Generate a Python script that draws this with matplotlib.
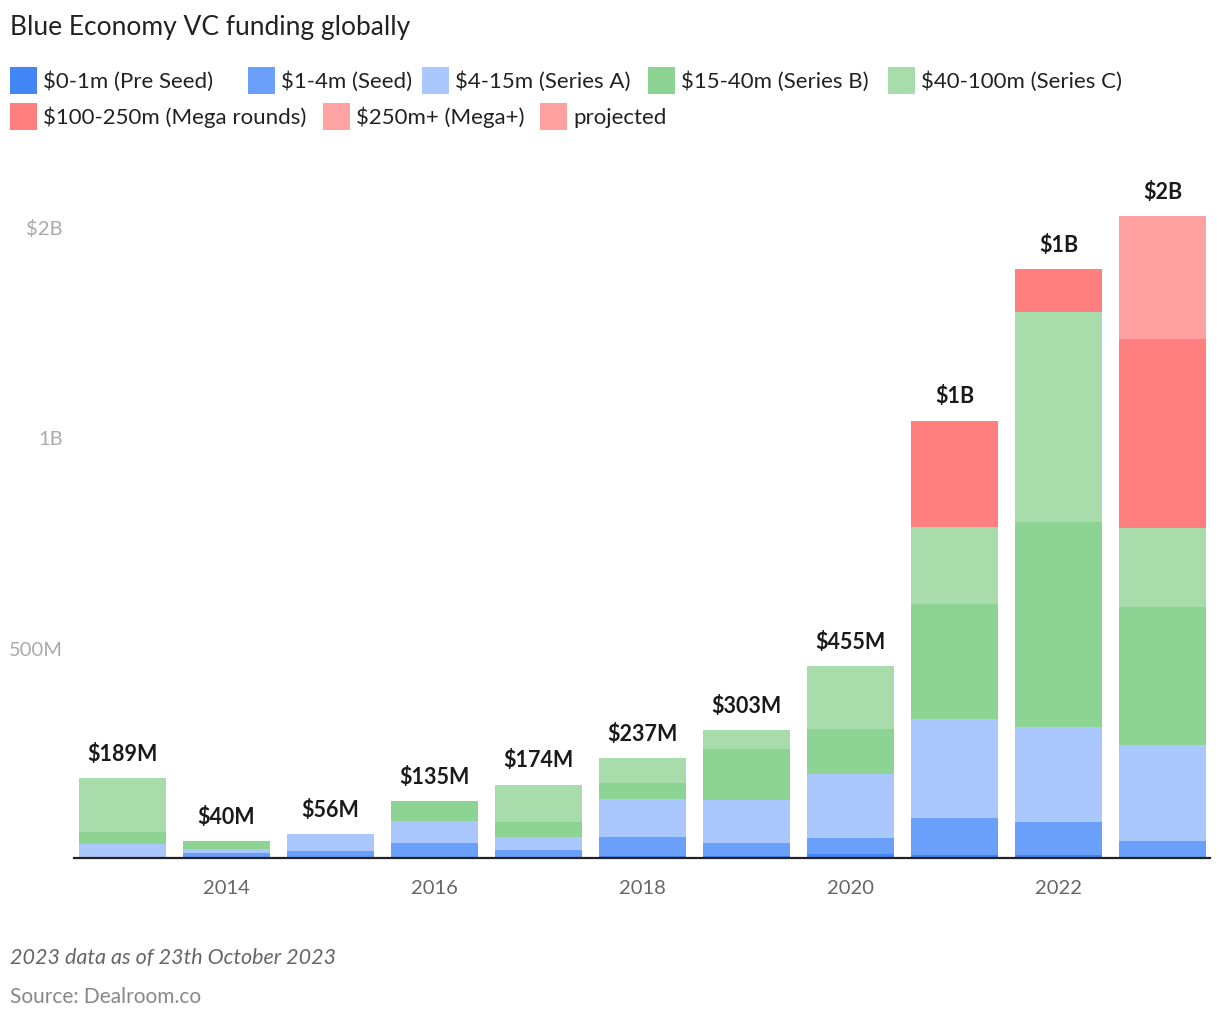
import matplotlib
matplotlib.use("Agg")
import matplotlib.pyplot as plt
from matplotlib.patches import Rectangle
import numpy as np

# data (millions of USD)
years = [2013, 2014, 2015, 2016, 2017, 2018, 2019, 2020, 2021, 2022, 2023]
pre_seed = [0.5, 1, 1, 1.5, 3, 5.5, 5.5, 9.5, 8, 8, 3]
seed = [3, 11.5, 16, 35, 16.5, 45, 31, 38, 88, 78, 38]
series_a = [30, 10, 39, 51, 31.5, 90.5, 102, 152, 235, 226, 228]
series_b = [28.5, 17.5, 0, 47.5, 34, 36, 121, 107.5, 273, 485, 328]
series_c = [127, 0, 0, 0, 89, 60, 43.5, 148, 183, 499, 188]
mega = [0, 0, 0, 0, 0, 0, 0, 0, 252, 102, 447]
mega_plus = [0, 0, 0, 0, 0, 0, 0, 0, 0, 0, 0]
projected = [0, 0, 0, 0, 0, 0, 0, 0, 0, 0, 292]

labels = ["$0-1m (Pre Seed)", "$1-4m (Seed)", "$4-15m (Series A)",
          "$15-40m (Series B)", "$40-100m (Series C)",
          "$100-250m (Mega rounds)", "$250m+ (Mega+)", "projected"]
colors = ["#4285f4", "#6a9ffb", "#aac8fd", "#8dd393", "#a8dcaa",
          "#ff7f7f", "#ffa3a3", "#ffa1a1"]

yticks = [500, 1000, 1500]
ytick_labels = ["500M", "1B", "$2B"]
xticks = [2014, 2016, 2018, 2020, 2022]

W, H = 1220, 1020
FONT = "Lato"


def fx(px):
    return px / W


def fy(py):
    # pixel from top -> figure fraction from bottom
    return 1 - py / H


def fmt_total(v):
    if v >= 1000:
        return "$%.0fB" % (v / 1000)
    return "$%.0fM" % v


def plotGraph():
    fig = plt.figure(figsize=(W / 100, H / 100), dpi=100)
    ax = fig.add_axes([fx(74), fy(859), fx(1210 - 74), 1700 * 0.421 / H])

    series = [pre_seed, seed, series_a, series_b, series_c, mega, mega_plus, projected]
    bottom = np.zeros(len(years))
    for vals, col in zip(series, colors):
        vals = np.array(vals, dtype=float)
        ax.bar(years, vals, bottom=bottom, width=0.837, color=col, linewidth=0)
        bottom += vals

    # total labels above the bars
    for yr, tot in zip(years, bottom):
        ax.annotate(fmt_total(tot), (yr, tot), xytext=(0, 25),
                    textcoords="offset pixels", ha="center", va="center",
                    fontsize=15.5, fontweight="bold", color="#1a1a1a", family=FONT)

    ax.set_xlim(2012.534, 2023.457)
    ax.set_ylim(0, 1700)
    ax.set_xticks(xticks)
    ax.set_xticklabels([str(x) for x in xticks], fontsize=14.5, color="#666666", family=FONT)
    ax.set_yticks(yticks)
    ax.set_yticklabels(ytick_labels, fontsize=14.5, color="#aaaaaa", family=FONT)
    ax.tick_params(axis="both", length=0)
    ax.tick_params(axis="x", pad=15)
    ax.tick_params(axis="y", pad=8)
    for s in ["left", "right", "top"]:
        ax.spines[s].set_visible(False)
    ax.spines["bottom"].set_color("#222222")
    ax.spines["bottom"].set_linewidth(1.6)

    # title
    fig.text(fx(10), fy(28), "Blue Economy VC funding globally", fontsize=19,
             color="#222222", family=FONT, va="center", ha="left")

    # legend (flow layout like the original)
    legend_pos = [(10, 81.5), (248, 81.5), (422, 81.5), (648, 81.5), (888, 81.5),
                  (10, 117.5), (323, 117.5), (540, 117.5)]
    for (x, y), lab, col in zip(legend_pos, labels, colors):
        fig.add_artist(Rectangle((fx(x), fy(y + 13.5)), fx(27), 27 / H,
                                 transform=fig.transFigure, color=col, linewidth=0))
        fig.text(fx(x + 33), fy(y), lab, fontsize=16, color="#222222",
                 family=FONT, va="center", ha="left")

    # footnotes
    fig.text(fx(10), fy(958), "2023 data as of 23th October 2023", fontsize=15.5,
             style="italic", color="#666666", family=FONT, va="center")
    fig.text(fx(10), fy(997), "Source: Dealroom.co", fontsize=15,
             color="#888888", family=FONT, va="center")

    fig.savefig("out.png", dpi=100)


plotGraph()
